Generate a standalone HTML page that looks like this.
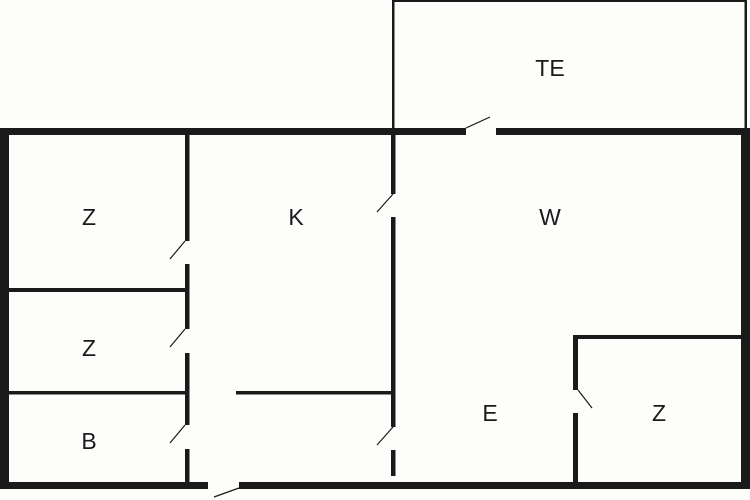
<!DOCTYPE html>
<html><head><style>
html,body{margin:0;padding:0;background:#fdfdfb;}
svg{display:block;}
text{font-family:"Liberation Sans",sans-serif;font-size:23px;fill:#1a1a1a;text-anchor:middle;}
</style></head><body>
<svg width="750" height="500" viewBox="0 0 750 500" xmlns="http://www.w3.org/2000/svg">
<rect width="750" height="500" fill="#fdfdfb"/>
<g fill="#1a1a1a">
<!-- TE box -->
<rect x="392" y="0" width="2.5" height="130"/>
<rect x="744.5" y="0" width="2.5" height="130"/>
<rect x="392" y="0" width="355" height="2"/>
<!-- outer walls -->
<rect x="0" y="128" width="466" height="7"/>
<rect x="496" y="128" width="254" height="7"/>
<rect x="0" y="128" width="9" height="361"/>
<rect x="741" y="128" width="9" height="361"/>
<rect x="0" y="482" width="208" height="7"/>
<rect x="239" y="482" width="511" height="7"/>
<!-- wall x=185 -->
<rect x="185" y="135" width="4.5" height="106"/>
<rect x="185" y="264" width="4.5" height="65"/>
<rect x="185" y="353" width="4.5" height="72"/>
<rect x="185" y="449" width="4.5" height="33"/>
<rect x="9" y="288" width="176" height="4"/>
<rect x="9" y="391" width="176" height="3.5"/>
<!-- wall x=391 -->
<rect x="391" y="135" width="4.5" height="59"/>
<rect x="391" y="217" width="4.5" height="210"/>
<rect x="391" y="450" width="4.5" height="26"/>
<rect x="236" y="391" width="155" height="3.5"/>
<!-- small room right -->
<rect x="573" y="335" width="5" height="55"/>
<rect x="573" y="413" width="5" height="70"/>
<rect x="573" y="335" width="168" height="4"/>
</g>
<g stroke="#1a1a1a" stroke-width="1.2" fill="none">
<line x1="185" y1="241" x2="170" y2="259"/>
<line x1="185" y1="329" x2="170" y2="347"/>
<line x1="185" y1="425" x2="170" y2="443"/>
<line x1="393" y1="194" x2="377" y2="212"/>
<line x1="393" y1="427" x2="377" y2="445"/>
<line x1="578" y1="390" x2="592" y2="408"/>
<line x1="466" y1="128" x2="490" y2="117"/>
<line x1="239" y1="488" x2="214" y2="497"/>
</g>
<text x="550" y="76">TE</text>
<text x="89" y="225">Z</text>
<text x="296" y="225">K</text>
<text x="550" y="225">W</text>
<text x="89" y="356">Z</text>
<text x="89" y="449">B</text>
<text x="490" y="421">E</text>
<text x="659" y="421">Z</text>
</svg>
</body></html>
